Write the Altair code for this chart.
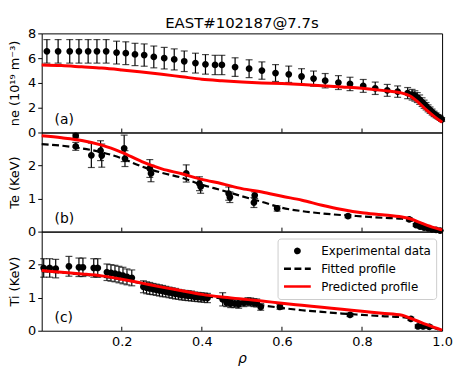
import altair as alt
import pandas as pd

FONT = "DejaVu Sans"
SERIES = ["Experimental data", "Fitted profile", "Predicted profile"]
DOT = "M-0.16,0A0.16,0.16,0,1,0,0.16,0A0.16,0.16,0,1,0,-0.16,0Z"

# ---------------- panel (a): electron density ----------------
ne_rho = [0.013, 0.041, 0.070, 0.093, 0.116, 0.138, 0.161, 0.187, 0.210, 0.233,
          0.256, 0.280, 0.306, 0.331, 0.356, 0.384, 0.409, 0.433, 0.450, 0.483,
          0.518, 0.550, 0.584, 0.617, 0.649, 0.679, 0.708, 0.741, 0.770, 0.803,
          0.833, 0.863, 0.889, 0.914, 0.925, 0.932, 0.938, 0.944, 0.950, 0.955,
          0.960, 0.965, 0.970, 0.975, 0.980, 0.985, 0.990, 0.995, 0.999]
ne_val = [6.55, 6.55, 6.55, 6.55, 6.55, 6.55, 6.55, 6.45, 6.40, 6.30,
          6.25, 6.10, 6.00, 5.90, 5.75, 5.60, 5.50, 5.45, 5.45, 5.28,
          5.15, 5.00, 4.80, 4.70, 4.52, 4.35, 4.18, 4.03, 3.92, 3.76,
          3.57, 3.40, 3.30, 3.18, 3.05, 2.95, 2.82, 2.65, 2.45, 2.28,
          2.12, 1.95, 1.80, 1.65, 1.50, 1.38, 1.27, 1.15, 1.05]
ne_err = [0.95, 0.95, 0.95, 0.95, 0.95, 0.95, 0.95, 0.92, 0.92, 0.90,
          0.90, 0.88, 0.87, 0.85, 0.83, 0.80, 0.79, 0.78, 0.78, 0.75,
          0.72, 0.70, 0.68, 0.66, 0.63, 0.61, 0.58, 0.56, 0.54, 0.52,
          0.50, 0.48, 0.46, 0.45, 0.43, 0.42, 0.40, 0.38, 0.35, 0.33,
          0.30, 0.28, 0.26, 0.24, 0.22, 0.20, 0.18, 0.17, 0.15]
ne_pred_rho = [0, 0.05, 0.1, 0.15, 0.2, 0.25, 0.3, 0.35, 0.4, 0.45, 0.5, 0.55,
               0.6, 0.65, 0.7, 0.75, 0.8, 0.85, 0.9, 0.92, 0.94, 0.96, 0.98, 1.0]
ne_pred = [5.45, 5.40, 5.30, 5.20, 5.05, 4.88, 4.70, 4.50, 4.30, 4.18, 4.08, 4.00,
           3.95, 3.87, 3.78, 3.68, 3.57, 3.40, 3.18, 2.95, 2.45, 1.85, 1.30, 0.82]

# ---------------- panel (b): electron temperature ----------------
te_rho = [0.085, 0.085, 0.124, 0.147, 0.150, 0.206, 0.208, 0.270, 0.273, 0.361,
          0.394, 0.397, 0.467, 0.470, 0.532, 0.530, 0.588, 0.765, 0.918, 0.935,
          0.945, 0.955, 0.965, 0.975, 0.985, 0.995]
te_val = [2.90, 2.58, 2.31, 2.45, 2.30, 2.52, 2.21, 1.91, 1.76, 1.76,
          1.45, 1.36, 1.15, 1.04, 1.10, 0.88, 0.70, 0.47, 0.37, 0.20,
          0.15, 0.12, 0.10, 0.07, 0.05, 0.03]
te_err = [0.06, 0.12, 0.37, 0.30, 0.35, 0.40, 0.24, 0.27, 0.25, 0.26,
          0.21, 0.20, 0.20, 0.16, 0.10, 0.15, 0.08, 0.05, 0.05, 0.04,
          0.03, 0.03, 0.02, 0.02, 0.02, 0.01]
prof_rho = [0, 0.05, 0.1, 0.15, 0.2, 0.25, 0.3, 0.35, 0.4, 0.45, 0.5, 0.55,
            0.6, 0.65, 0.7, 0.75, 0.8, 0.85, 0.9, 0.92, 0.95, 0.98, 1.0]
te_fit = [2.65, 2.60, 2.52, 2.40, 2.22, 1.97, 1.78, 1.63, 1.42, 1.25, 1.07, 0.90,
          0.72, 0.62, 0.55, 0.50, 0.46, 0.42, 0.39, 0.36, 0.20, 0.07, 0.00]
te_pred = [2.90, 2.84, 2.76, 2.62, 2.40, 2.12, 1.90, 1.75, 1.58, 1.45, 1.30, 1.20,
           1.07, 0.95, 0.80, 0.67, 0.57, 0.51, 0.44, 0.39, 0.25, 0.12, 0.05]

# ---------------- panel (c): ion temperature ----------------
ti_rho = [0.005, 0.020, 0.035, 0.068, 0.093, 0.103, 0.130, 0.140, 0.163, 0.173,
          0.183, 0.193, 0.203, 0.213, 0.225, 0.254, 0.262, 0.270, 0.278, 0.286,
          0.294, 0.302, 0.310, 0.318, 0.326, 0.334, 0.342, 0.350, 0.358, 0.366,
          0.374, 0.382, 0.390, 0.398, 0.406, 0.414, 0.452, 0.462, 0.472, 0.482,
          0.492, 0.505, 0.515, 0.522, 0.530, 0.537, 0.547, 0.595, 0.770, 0.922,
          0.940, 0.953, 0.968]
ti_val = [1.90, 1.90, 1.88, 1.95, 1.92, 1.92, 1.90, 1.90, 1.77, 1.75,
          1.73, 1.70, 1.67, 1.63, 1.60, 1.33, 1.30, 1.28, 1.26, 1.24,
          1.22, 1.20, 1.18, 1.16, 1.14, 1.12, 1.10, 1.08, 1.07, 1.06,
          1.05, 1.03, 1.02, 1.01, 1.00, 0.99, 0.95, 0.85, 0.82, 0.82,
          0.80, 0.85, 0.88, 0.87, 0.85, 0.84, 0.72, 0.72, 0.48, 0.36,
          0.13, 0.13, 0.12]
ti_err = [0.28, 0.28, 0.28, 0.30, 0.28, 0.28, 0.28, 0.28, 0.25, 0.25,
          0.25, 0.25, 0.25, 0.24, 0.24, 0.18, 0.18, 0.18, 0.17, 0.17,
          0.17, 0.17, 0.16, 0.16, 0.16, 0.16, 0.15, 0.15, 0.15, 0.15,
          0.15, 0.14, 0.14, 0.14, 0.14, 0.14, 0.20, 0.12, 0.12, 0.12,
          0.12, 0.12, 0.12, 0.12, 0.12, 0.12, 0.10, 0.07, 0.05, 0.05,
          0.05, 0.05, 0.05]
ti_fit = [1.80, 1.76, 1.70, 1.64, 1.55, 1.43, 1.30, 1.18, 1.07, 0.97, 0.87, 0.77,
          0.69, 0.62, 0.57, 0.52, 0.48, 0.44, 0.41, 0.37, 0.22, 0.08, 0.00]
ti_pred = [1.82, 1.77, 1.72, 1.66, 1.56, 1.44, 1.32, 1.21, 1.10, 1.02, 0.96, 0.90,
           0.83, 0.77, 0.71, 0.65, 0.59, 0.53, 0.47, 0.38, 0.24, 0.10, 0.02]

x_ticks = [0.2, 0.4, 0.6, 0.8]
x_labels = [0.2, 0.4, 0.6, 0.8, 1.0]

W, H = 404, 100


def exp_df(r, v, e):
    return pd.DataFrame({
        "rho": r, "val": v,
        "lo": [a - b for a, b in zip(v, e)],
        "hi": [a + b for a, b in zip(v, e)],
        "series": SERIES[0],
    })


def line_df(r, v):
    return pd.DataFrame({"rho": r, "val": v})


def xenc(field, bottom):
    if bottom:
        axis = alt.Axis(values=x_labels, format=".1f", title="ρ", labelFlush=False,
                        ticks=False, domain=False, grid=False, labelPadding=5,
                        titleFontStyle="italic", titlePadding=3, titleFontSize=14)
    else:
        axis = None
    return alt.X(f"{field}:Q", scale=alt.Scale(domain=[0, 1], nice=False, zero=False), axis=axis)


def yenc(field, domain, ticks, title):
    return alt.Y(f"{field}:Q", scale=alt.Scale(domain=domain, nice=False, zero=False),
                 axis=alt.Axis(values=ticks, title=title, grid=False, domain=False,
                               tickSize=4, labelPadding=2, titlePadding=6))


def panel(edf, fit, pred, domain, ticks, title, label, bottom=False, legend=False):
    Y = lambda f: yenc(f, domain, ticks, title)
    X = lambda f: xenc(f, bottom)
    base = alt.Chart(edf)
    layers = [
        base.mark_rule(color="black", strokeWidth=1.2).encode(x=X("rho"), y=Y("lo"), y2="hi"),
        base.mark_tick(orient="horizontal", size=7, thickness=1.2, color="black").encode(x=X("rho"), y=Y("lo")),
        base.mark_tick(orient="horizontal", size=7, thickness=1.2, color="black").encode(x=X("rho"), y=Y("hi")),
    ]
    if legend:
        lg = alt.Legend(orient="none", legendX=238, legendY=207, title=None,
                        fillColor="rgba(255,255,255,0.85)", strokeColor="#cccccc",
                        cornerRadius=3, padding=5, labelFont=FONT, labelFontSize=12,
                        labelColor="black", symbolSize=729, symbolStrokeWidth=2.5,
                        labelOffset=9, rowPadding=3, clipHeight=15)
        pts = base.mark_point(filled=False, fill="black", size=729, strokeWidth=2.5, opacity=1).encode(
            x=X("rho"), y=Y("val"),
            color=alt.Color("series:N", scale=alt.Scale(domain=SERIES, range=["black", "black", "red"]), legend=lg),
            shape=alt.Shape("series:N", scale=alt.Scale(domain=SERIES, range=[DOT, "stroke", "stroke"]), legend=lg),
            strokeDash=alt.StrokeDash("series:N", scale=alt.Scale(domain=SERIES, range=[[1, 0], [7, 3.5], [1, 0]]), legend=lg),
        )
    else:
        pts = base.mark_point(filled=False, fill="black", size=729, strokeWidth=2.5, shape=DOT,
                              color="black", opacity=1).encode(x=X("rho"), y=Y("val"))
    layers.append(pts)
    if fit is not None:
        layers.append(alt.Chart(fit).mark_line(color="black", strokeDash=[7, 3.5], strokeWidth=2.2,
                                               interpolate="monotone").encode(x=X("rho"), y=Y("val")))
    layers.append(alt.Chart(pred).mark_line(color="#ff0000", strokeWidth=3,
                                            interpolate="monotone").encode(x=X("rho"), y=Y("val")))
    layers.append(alt.Chart(pd.DataFrame({"t": x_ticks})).mark_rule(color="black", strokeWidth=1).encode(
        x=X("t"), y=alt.value(H), y2=alt.value(H - 4)))
    layers.append(alt.Chart(pd.DataFrame({"l": [label]})).mark_text(
        align="left", baseline="middle", font=FONT, fontSize=14, color="black").encode(
        x=alt.value(13), y=alt.value(87), text="l:N"))
    return alt.layer(*layers).properties(width=W, height=H)


pa = panel(exp_df(ne_rho, ne_val, ne_err), None, line_df(ne_pred_rho, ne_pred),
           [0, 8], [0, 2, 4, 6, 8], "ne (10¹⁹ m⁻³)", "(a)").properties(
    title=alt.TitleParams("EAST#102187@7.7s", fontSize=15, font=FONT, fontWeight="normal",
                          color="black", anchor="middle", frame="group", offset=-4))
pb = panel(exp_df(te_rho, te_val, te_err), line_df(prof_rho, te_fit), line_df(prof_rho, te_pred),
           [0, 3], [0, 1, 2], "Te (KeV)", "(b)")
pc = panel(exp_df(ti_rho, ti_val, ti_err), line_df(prof_rho, ti_fit), line_df(prof_rho, ti_pred),
           [0, 3], [0, 1, 2], "Ti (KeV)", "(c)", bottom=True, legend=True)

chart = alt.vconcat(pa, pb, pc, spacing=0, bounds="flush").properties(
    padding={"top": 6, "left": 0, "right": 0, "bottom": 0}
).configure_view(
    stroke="black", strokeWidth=1
).configure_axis(
    labelFont=FONT, titleFont=FONT, labelFontSize=13, titleFontSize=13,
    labelColor="black", titleColor="black", titleFontWeight="normal", tickColor="black"
)

chart.save("out.html", embed_options={"renderer": "svg", "actions": False})
